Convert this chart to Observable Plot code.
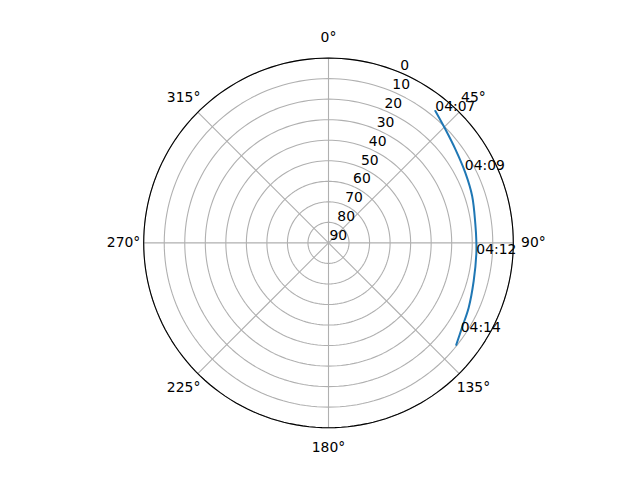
<!DOCTYPE html>
<html><head><meta charset="utf-8">
<script src="https://cdn.jsdelivr.net/npm/d3@7"></script>
<script src="https://cdn.jsdelivr.net/npm/@observablehq/plot@0.6"></script>
<style>body{margin:0;background:#fff}</style>
</head><body><div id="chart"></div>
<script>
// satellite pass: azimuth (deg, clockwise from N) and elevation (deg)
const pathAz = [39.0, 45.8, 53.6, 62.8, 71.9, 82.7, 89.2, 94.3, 104.7, 114.8, 122.4, 128.6];
const pathEl = [7.3, 10.6, 13.2, 15.1, 16.4, 17.9, 18.0, 17.8, 16.9, 14.8, 13.0, 10.4];
const timeLabels = ["04:07", "04:09", "04:12", "04:14"];
const timeAz = [39.0, 62.0, 94.3, 123.9];
const timeEl = [7.3, 14.8, 17.8, 12.4];
const elevationTicks = [0, 10, 20, 30, 40, 50, 60, 70, 80, 90];
const azimuthTicks = [0, 45, 90, 135, 180, 225, 270, 315];
const radialLabelAz = 22.5;
const thetaLabelEl = -9.8;

const lon = az => 180 - az;
const pathData = pathAz.map((a, i) => ({az: a, el: pathEl[i]}));
const timeData = timeLabels.map((t, i) => ({t, az: timeAz[i], el: timeEl[i]}));
const font = "DejaVu Sans";
const fs = 13.9;

const plot = Plot.plot({
  width: 640,
  height: 480,
  marginLeft: 143.2,
  marginRight: 127.2,
  marginTop: 57.6,
  marginBottom: 52.8,
  style: {fontFamily: font, fontSize: fs + "px", background: "white"},
  projection: {
    type: "azimuthal-equidistant",
    rotate: [0, -90],
    domain: d3.geoCircle().center([0, 90]).radius(90)(),
    clip: false
  },
  marks: [
    // elevation rings
    Plot.geo(elevationTicks.filter(e => e < 90), {
      geometry: e => d3.geoCircle().center([0, 90]).radius(90 - e)(),
      stroke: "#b0b0b0", strokeWidth: 1.1, fill: "none"
    }),
    // azimuth spokes
    Plot.link(azimuthTicks, {
      x1: a => lon(a), y1: 0, x2: a => lon(a), y2: 90,
      stroke: "#b0b0b0", strokeWidth: 1.1
    }),
    // outer edge
    Plot.geo([d3.geoCircle().center([0, 90]).radius(90)()], {stroke: "black", strokeWidth: 1.1, fill: "none"}),
    // pass track
    Plot.line(pathData, {x: d => lon(d.az), y: "el", stroke: "#1f77b4", strokeWidth: 2, curve: "catmull-rom"}),
    // time labels
    Plot.text(timeData, {
      x: d => lon(d.az), y: "el", text: "t",
      textAnchor: "start", lineAnchor: "bottom",
      fontSize: fs, fill: "black"
    }),
    // radial tick labels
    Plot.text(elevationTicks, {
      x: () => lon(radialLabelAz), y: e => e, text: e => String(e),
      textAnchor: "start", lineAnchor: "bottom", dx: 1, dy: -2.5,
      fontSize: fs, fill: "black"
    }),
    // azimuth tick labels
    Plot.text(azimuthTicks, {
      x: a => lon(a), y: () => thetaLabelEl, text: a => a + "°",
      textAnchor: "middle", lineAnchor: "middle",
      fontSize: fs, fill: "black"
    })
  ]
});
document.getElementById("chart").appendChild(plot);
</script>
</body></html>
